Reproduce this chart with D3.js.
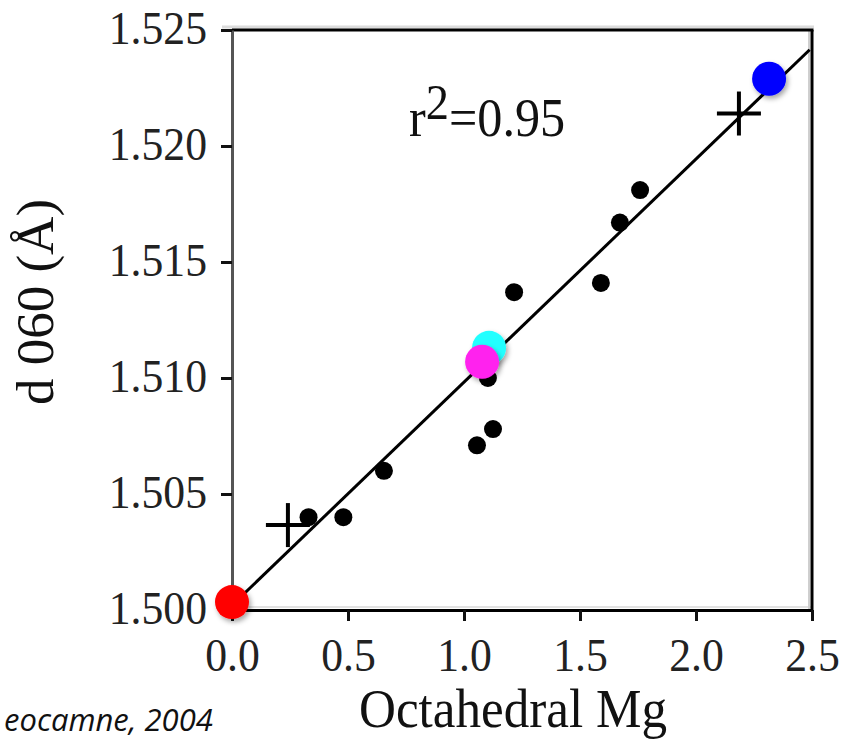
<!DOCTYPE html>
<html>
<head>
<meta charset="utf-8">
<script src="https://cdn.jsdelivr.net/npm/d3@7"></script>
<style>
  html, body { margin: 0; padding: 0; background: #fff; overflow: hidden; }
  svg { display: block; }
</style>
</head>
<body>
<svg id="chart" width="848" height="741"></svg>
<script>
// ---- data ----
const xTicks = [0.0, 0.5, 1.0, 1.5, 2.0, 2.5];
const yTicks = [1.500, 1.505, 1.510, 1.515, 1.520, 1.525];
const xTickLabels = ["0.0", "0.5", "1.0", "1.5", "2.0", "2.5"];
const yTickLabels = ["1.500", "1.505", "1.510", "1.515", "1.520", "1.525"];

const dotX = [0.33, 0.48, 0.655, 1.056, 1.103, 1.125, 1.216, 1.59, 1.672, 1.759];
const dotY = [1.5040, 1.5040, 1.5060, 1.5071, 1.5100, 1.5078, 1.5137, 1.5141, 1.5167, 1.5181];

const crossX = [0.241, 2.185];
const crossY = [1.50366, 1.5214];

const fitX = [0.03, 2.49];
const fitY = [1.50049, 1.52415];

const highlightX = [0.0, 1.108, 1.078, 2.315];
const highlightY = [1.50034, 1.5113, 1.5107, 1.5229];
const highlightColor = ["#ff0000", "#22ffff", "#ff22ee", "#0000ff"];

const xTitle = "Octahedral Mg";
const yTitle = "d 060 (Å)";
const fitLabel = { r: "r", sup: "2", rest: "=0.95" };
const sourceNote = "eocamne, 2004";

// ---- layout ----
const svg = d3.select("#chart");
const pL = 232, pR = 812, pT = 30, pB = 610;
const x = d3.scaleLinear().domain([0, 2.5]).range([pL, pR]);
const y = d3.scaleLinear().domain([1.500, 1.525]).range([pB, pT]);
const serif = "'Liberation Serif', 'DejaVu Serif', serif";
const sx = 0.93;

const defs = svg.append("defs");
const f = defs.append("filter").attr("id", "shadow")
  .attr("x", "-50%").attr("y", "-50%").attr("width", "200%").attr("height", "200%");
f.append("feDropShadow").attr("dx", 2).attr("dy", 3).attr("stdDeviation", 2.5)
  .attr("flood-color", "#000").attr("flood-opacity", 0.35);

// faint shadow lines around frame
svg.append("line").attr("x1", pL - 10).attr("x2", pR + 2).attr("y1", pT - 3).attr("y2", pT - 3)
  .attr("stroke", "#dcdcdc").attr("stroke-width", 3);
svg.append("line").attr("x1", pL).attr("x2", pR).attr("y1", pB - 3).attr("y2", pB - 3)
  .attr("stroke", "#e2e2e2").attr("stroke-width", 2);
svg.append("line").attr("x1", pR - 3).attr("x2", pR - 3).attr("y1", pT).attr("y2", pB)
  .attr("stroke", "#cfcfcf").attr("stroke-width", 2);

// top and right border
svg.append("line").attr("x1", pL).attr("x2", pR + 1.5).attr("y1", pT).attr("y2", pT)
  .attr("stroke", "#000").attr("stroke-width", 3);
svg.append("line").attr("x1", pR).attr("x2", pR).attr("y1", pT).attr("y2", pB + 1.5)
  .attr("stroke", "#000").attr("stroke-width", 3);

// y axis
const yAxis = d3.axisLeft(y).tickValues(yTicks).tickFormat((d, i) => yTickLabels[i])
  .tickSize(11).tickPadding(14).tickSizeOuter(0);
const gy = svg.append("g").attr("transform", `translate(${pL},0)`).call(yAxis);
gy.select(".domain").attr("stroke", "#555").attr("stroke-width", 3);
gy.selectAll(".tick line").attr("stroke", "#111").attr("stroke-width", 3);
gy.selectAll(".tick text")
  .attr("font-family", serif).attr("font-size", 47).attr("fill", "#222")
  .attr("dy", "0.28em")
  .each(function () {
    const t = d3.select(this);
    const tx = +t.attr("x");
    t.attr("x", 0).attr("transform", `translate(${tx},0) scale(${sx},1)`);
  });

// x axis
const xAxis = d3.axisBottom(x).tickValues(xTicks).tickFormat((d, i) => xTickLabels[i])
  .tickSize(11).tickPadding(17).tickSizeOuter(0);
const gx = svg.append("g").attr("transform", `translate(0,${pB})`).call(xAxis);
gx.select(".domain").attr("stroke", "#000").attr("stroke-width", 3);
gx.selectAll(".tick line").attr("stroke", "#111").attr("stroke-width", 3);
gx.selectAll(".tick text")
  .attr("font-family", serif).attr("font-size", 47).attr("fill", "#222")
  .each(function () {
    const t = d3.select(this);
    const ty = +t.attr("y");
    t.attr("y", 0).attr("transform", `translate(0,${ty}) scale(${sx},1)`);
  });

// titles
svg.append("text").attr("transform", `translate(513,727) scale(${sx},1)`)
  .attr("text-anchor", "middle").attr("font-family", serif).attr("font-size", 55)
  .attr("fill", "#111").text(xTitle);
svg.append("text").attr("transform", `translate(53,302) rotate(-90)`)
  .attr("text-anchor", "middle").attr("font-family", serif).attr("font-size", 53)
  .attr("fill", "#111").text(yTitle);

// r^2 label
const rl = svg.append("text").attr("transform", `translate(409,136) scale(${sx},1)`)
  .attr("font-family", serif).attr("font-size", 54).attr("fill", "#111");
rl.append("tspan").text(fitLabel.r);
rl.append("tspan").attr("dy", -17).attr("font-size", 50).text(fitLabel.sup);
rl.append("tspan").attr("dy", 17).text(fitLabel.rest);

// black dots
svg.append("g").selectAll("circle").data(dotX).join("circle")
  .attr("cx", d => x(d)).attr("cy", (d, i) => y(dotY[i])).attr("r", 9).attr("fill", "#000");

// fit line
svg.append("path")
  .attr("d", d3.line().x(d => x(d[0])).y(d => y(d[1]))(fitX.map((v, i) => [v, fitY[i]])))
  .attr("stroke", "#000").attr("stroke-width", 3).attr("fill", "none");

// crosses
const cg = svg.append("g").selectAll("g").data(crossX).join("g")
  .attr("transform", (d, i) => `translate(${x(d)},${y(crossY[i])})`);
cg.append("line").attr("x1", -22).attr("x2", 22).attr("stroke", "#000").attr("stroke-width", 4);
cg.append("line").attr("y1", -22).attr("y2", 22).attr("stroke", "#000").attr("stroke-width", 4);

// highlighted coloured points
svg.append("g").selectAll("circle").data(highlightX).join("circle")
  .attr("cx", d => x(d)).attr("cy", (d, i) => y(highlightY[i])).attr("r", 17)
  .attr("fill", (d, i) => highlightColor[i]).attr("filter", "url(#shadow)");

// source note (bottom-left)
svg.append("text").attr("x", 4).attr("y", 731)
  .attr("font-family", "'Open Sans', 'Noto Sans', sans-serif").attr("font-style", "italic")
  .attr("font-size", 31).attr("fill", "#111").text(sourceNote);
</script>
</body>
</html>
